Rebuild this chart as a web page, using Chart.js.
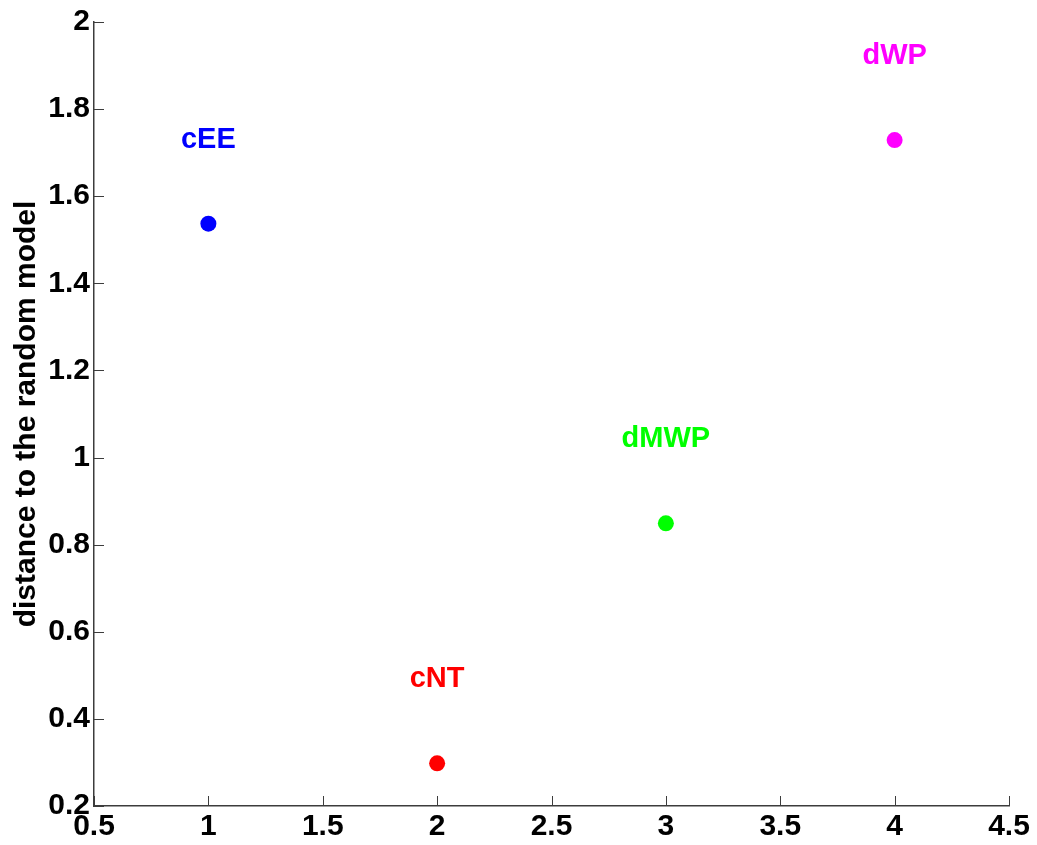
<!DOCTYPE html>
<html>
<head>
<meta charset="utf-8">
<script src="https://cdn.jsdelivr.net/npm/chart.js@4/dist/chart.umd.min.js"></script>
<style>
  html, body { margin: 0; padding: 0; background: #fff; }
  #wrap { width: 1037px; height: 845px; }
</style>
</head>
<body>
<div id="wrap"><canvas id="dist"></canvas></div>
<script>
// data
const categories = ["cEE", "cNT", "dMWP", "dWP"];
const xValues = [1, 2, 3, 4];
const distances = [1.537, 0.298, 0.849, 1.729];
const pointColors = ["#0000ff", "#ff0000", "#00ff00", "#ff00ff"];

const xTicks = [0.5, 1, 1.5, 2, 2.5, 3, 3.5, 4, 4.5];
const xTickLabels = ["0.5", "1", "1.5", "2", "2.5", "3", "3.5", "4", "4.5"];
const yTicks = [0.2, 0.4, 0.6, 0.8, 1, 1.2, 1.4, 1.6, 1.8, 2];
const yTickLabels = ["0.2", "0.4", "0.6", "0.8", "1", "1.2", "1.4", "1.6", "1.8", "2"];

const FONT = "'Liberation Sans', Arial, Helvetica, sans-serif";
const AXIS = "#3c3c3c";

// MATLAB-style inward tick marks + point labels
const extras = {
  id: "extras",
  afterDatasetsDraw(chart) {
    const { ctx, chartArea, scales } = chart;
    ctx.save();
    ctx.strokeStyle = AXIS;
    ctx.lineWidth = 1;
    xTicks.forEach((v) => {
      const px = Math.round(scales.x.getPixelForValue(v)) + 0.5;
      ctx.beginPath();
      ctx.moveTo(px, chartArea.bottom);
      ctx.lineTo(px, chartArea.bottom - 10);
      ctx.stroke();
    });
    yTicks.forEach((v) => {
      const py = Math.round(scales.y.getPixelForValue(v)) + 0.5;
      ctx.beginPath();
      ctx.moveTo(chartArea.left, py);
      ctx.lineTo(chartArea.left + 10, py);
      ctx.stroke();
    });

    ctx.font = "bold 29px " + FONT;
    ctx.textAlign = "center";
    ctx.textBaseline = "middle";
    categories.forEach((name, i) => {
      const px = scales.x.getPixelForValue(xValues[i]);
      const py = scales.y.getPixelForValue(distances[i]);
      ctx.fillStyle = pointColors[i];
      ctx.fillText(name, px, py - 84);
    });
    ctx.restore();
  },
};

new Chart(document.getElementById("dist"), {
  type: "scatter",
  data: {
    datasets: [
      {
        data: xValues.map((x, i) => ({ x: x, y: distances[i] })),
        pointBackgroundColor: pointColors,
        pointBorderColor: pointColors,
        pointRadius: 8,
        pointHoverRadius: 8,
        borderWidth: 0,
      },
    ],
  },
  options: {
    responsive: true,
    maintainAspectRatio: false,
    animation: false,
    events: [],
    layout: {
      padding: { top: 20, right: 28, left: 0, bottom: 0 },
    },
    plugins: {
      legend: { display: false },
      tooltip: { enabled: false },
    },
    scales: {
      x: {
        type: "linear",
        min: 0.5,
        max: 4.5,
        afterBuildTicks: (scale) => {
          scale.ticks = xTicks.map((v) => ({ value: v }));
        },
        afterFit: (scale) => {
          scale.height = 39;
        },
        grid: { display: false, drawTicks: false },
        border: { display: true, color: AXIS, width: 1.5 },
        ticks: {
          padding: 3,
          color: "#000",
          maxRotation: 0,
          autoSkip: false,
          font: { family: FONT, size: 30, weight: "bold" },
          callback: (v) => xTickLabels[xTicks.indexOf(v)],
        },
      },
      y: {
        type: "linear",
        min: 0.2,
        max: 2,
        afterBuildTicks: (scale) => {
          scale.ticks = yTicks.map((v) => ({ value: v }));
        },
        afterFit: (scale) => {
          scale.width = 94;
        },
        grid: { display: false, drawTicks: false },
        border: { display: true, color: AXIS, width: 1.5 },
        ticks: {
          padding: 4,
          color: "#000",
          autoSkip: false,
          font: { family: FONT, size: 30, weight: "bold" },
          callback: (v) => yTickLabels[yTicks.indexOf(v)],
        },
        title: {
          display: true,
          text: "distance to the random model",
          color: "#000",
          padding: { top: 9, bottom: 0 },
          font: { family: FONT, size: 30, weight: "bold" },
        },
      },
    },
  },
  plugins: [extras],
});
</script>
</body>
</html>
